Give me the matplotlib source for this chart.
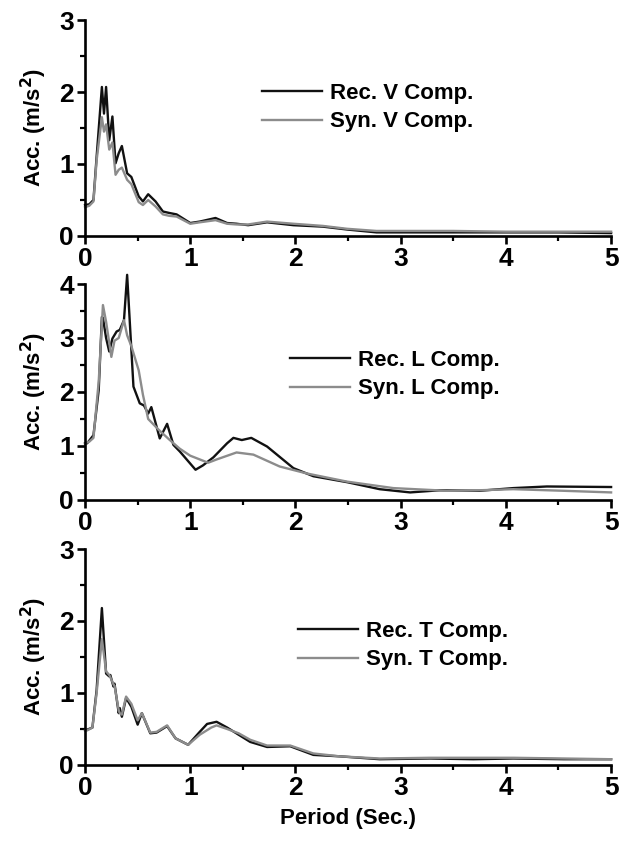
import matplotlib
matplotlib.use("Agg")
import matplotlib.pyplot as plt
from matplotlib.ticker import MultipleLocator

plt.rcParams['font.family'] = ['Liberation Sans', 'DejaVu Sans']
plt.rcParams['font.weight'] = 'bold'

# V component
v_rec_x = [0, 0.04, 0.08, 0.11, 0.16, 0.18, 0.20, 0.23, 0.26, 0.29, 0.32, 0.35, 0.40, 0.44, 0.51, 0.55,
           0.60, 0.67, 0.74, 0.80, 0.87, 1.0, 1.09, 1.24, 1.35, 1.44, 1.55, 1.73, 1.98, 2.26, 2.49, 2.77,
           3.0, 3.5, 4.0, 4.5, 5.0]
v_rec_y = [0.43, 0.44, 0.50, 1.10, 2.07, 1.70, 2.07, 1.33, 1.66, 1.01, 1.15, 1.25, 0.87, 0.82, 0.55, 0.48,
           0.58, 0.48, 0.34, 0.32, 0.30, 0.18, 0.20, 0.25, 0.18, 0.17, 0.15, 0.19, 0.15, 0.13, 0.09, 0.05,
           0.05, 0.05, 0.05, 0.05, 0.04]
v_syn_x = v_rec_x
v_syn_y = [0.40, 0.42, 0.48, 1.05, 1.65, 1.45, 1.55, 1.20, 1.30, 0.85, 0.92, 0.95, 0.78, 0.72, 0.47, 0.43,
           0.50, 0.41, 0.30, 0.28, 0.27, 0.17, 0.19, 0.22, 0.17, 0.16, 0.16, 0.20, 0.17, 0.14, 0.10, 0.07,
           0.07, 0.07, 0.06, 0.06, 0.06]

# L component
l_rec_x = [0, 0.02, 0.08, 0.13, 0.16, 0.17, 0.20, 0.23, 0.26, 0.30, 0.33, 0.37, 0.40, 0.46, 0.52, 0.56,
           0.60, 0.63, 0.71, 0.78, 0.84, 0.90, 1.05, 1.12, 1.22, 1.35, 1.41, 1.49, 1.58, 1.73, 1.98, 2.17,
           2.49, 2.80, 3.09, 3.37, 3.75, 4.07, 4.39, 5.0]
l_rec_y = [1.05, 1.05, 1.20, 2.04, 3.39, 3.37, 3.00, 2.75, 2.99, 3.12, 3.15, 3.33, 4.17, 2.10, 1.79, 1.75,
           1.60, 1.72, 1.14, 1.41, 1.02, 0.90, 0.56, 0.64, 0.79, 1.05, 1.15, 1.11, 1.15, 0.99, 0.59, 0.44,
           0.33, 0.20, 0.14, 0.18, 0.17, 0.22, 0.25, 0.24]
l_syn_x = [0, 0.04, 0.08, 0.13, 0.17, 0.20, 0.25, 0.28, 0.32, 0.37, 0.40, 0.44, 0.51, 0.55, 0.60, 0.70,
           0.80, 0.90, 1.0, 1.17, 1.25, 1.44, 1.60, 1.85, 2.11, 2.49, 2.93, 3.44, 3.75, 4.07, 4.55, 5.0]
l_syn_y = [1.05, 1.08, 1.15, 2.20, 3.61, 3.30, 2.65, 2.95, 3.00, 3.33, 3.05, 2.85, 2.40, 1.95, 1.50, 1.30,
           1.12, 0.95, 0.82, 0.69, 0.75, 0.88, 0.84, 0.62, 0.49, 0.34, 0.22, 0.17, 0.18, 0.20, 0.17, 0.14]

# T component
t_rec_x = [0, 0.02, 0.07, 0.11, 0.16, 0.20, 0.23, 0.24, 0.27, 0.28, 0.32, 0.33, 0.35, 0.39, 0.44, 0.50,
           0.54, 0.62, 0.68, 0.78, 0.86, 0.98, 1.09, 1.16, 1.25, 1.35, 1.46, 1.57, 1.73, 1.95, 2.17, 2.42,
           2.80, 3.28, 3.69, 4.07, 4.55, 5.0]
t_rec_y = [0.49, 0.49, 0.52, 1.04, 2.18, 1.27, 1.23, 1.25, 1.09, 1.13, 0.72, 0.79, 0.67, 0.93, 0.81, 0.56,
           0.72, 0.44, 0.45, 0.54, 0.37, 0.28, 0.46, 0.57, 0.60, 0.52, 0.42, 0.32, 0.25, 0.26, 0.14, 0.12,
           0.08, 0.09, 0.08, 0.09, 0.08, 0.08]
t_syn_x = [0, 0.02, 0.07, 0.11, 0.16, 0.20, 0.23, 0.24, 0.27, 0.28, 0.32, 0.33, 0.35, 0.39, 0.44, 0.50,
           0.54, 0.62, 0.68, 0.78, 0.86, 0.98, 1.09, 1.20, 1.25, 1.35, 1.46, 1.57, 1.73, 1.95, 2.17, 2.42,
           2.80, 3.28, 3.69, 4.07, 4.55, 5.0]
t_syn_y = [0.48, 0.48, 0.52, 1.00, 1.75, 1.30, 1.25, 1.22, 1.12, 1.10, 0.76, 0.72, 0.70, 0.95, 0.85, 0.62,
           0.72, 0.45, 0.46, 0.55, 0.37, 0.28, 0.42, 0.52, 0.55, 0.50, 0.44, 0.35, 0.27, 0.27, 0.16, 0.12,
           0.09, 0.10, 0.10, 0.10, 0.09, 0.08]

panels = [
    (v_rec_x, v_rec_y, v_syn_x, v_syn_y, "V", 3, (0.336, 0.710)),
    (l_rec_x, l_rec_y, l_syn_x, l_syn_y, "L", 4, (0.390, 0.696)),
    (t_rec_x, t_rec_y, t_syn_x, t_syn_y, "T", 3, (0.405, 0.668)),
]
bottoms = [0.7194, 0.4055, 0.0904]

fig = plt.figure(figsize=(6.3, 8.41), dpi=100)
for (rx, ry, sx, sy, comp, ytop, legpos), b in zip(panels, bottoms):
    ax = fig.add_axes([0.135, b, 0.835, 0.2568])
    ax.plot(rx, ry, color='#111111', lw=1.7, label='Rec. %s Comp.' % comp, clip_on=False)
    ax.plot(sx, sy, color='#8c8c8c', lw=1.7, label='Syn. %s Comp.' % comp, clip_on=False)
    ax.set_xlim(0, 5)
    ax.set_ylim(0, ytop)
    ax.xaxis.set_major_locator(MultipleLocator(1))
    ax.xaxis.set_minor_locator(MultipleLocator(0.5))
    ax.yaxis.set_major_locator(MultipleLocator(1))
    ax.yaxis.set_minor_locator(MultipleLocator(0.5))
    for s in ['top', 'right']:
        ax.spines[s].set_visible(False)
    for s in ['left', 'bottom']:
        ax.spines[s].set_linewidth(1.9)
    ax.tick_params(which='major', direction='out', length=6, width=1.9, labelsize=19, pad=2)
    ax.tick_params(which='minor', direction='out', length=3.5, width=1.6)
    for lab in ax.get_xticklabels() + ax.get_yticklabels():
        lab.set_fontweight('bold')
    ax.set_ylabel('Acc. (m/s$^\\mathbf{2}$)', fontsize=16, fontweight='bold', labelpad=7)
    ax.legend(frameon=False, loc='upper left', bbox_to_anchor=legpos, fontsize=16,
              handlelength=2.7, handletextpad=0.35, labelspacing=0.35, borderaxespad=0, borderpad=0)

fig.axes[-1].set_xlabel('Period (Sec.)', fontsize=16, fontweight='bold', labelpad=6)
fig.savefig('out.png', dpi=100)
